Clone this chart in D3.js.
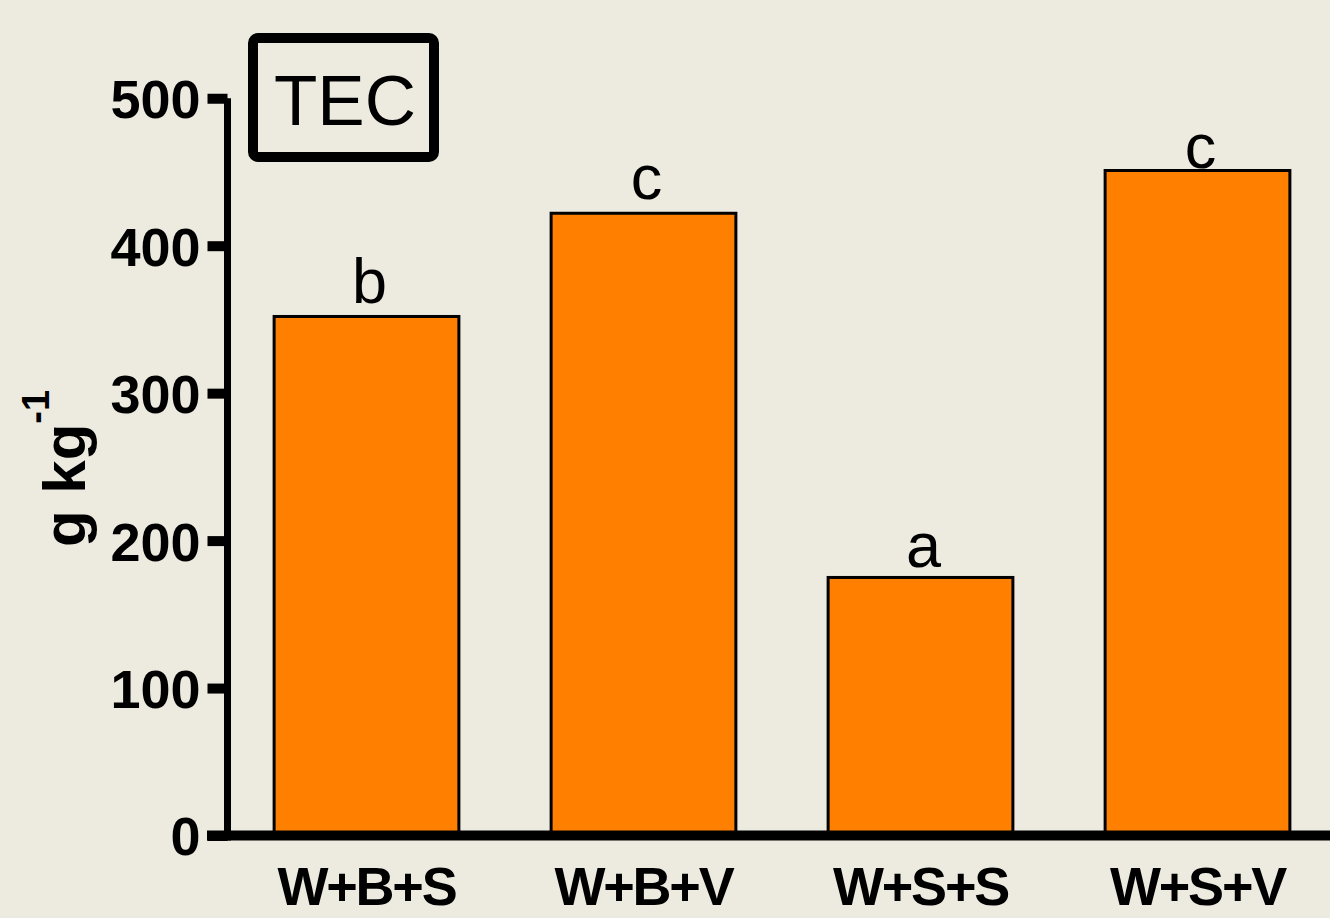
<!DOCTYPE html>
<html>
<head>
<meta charset="utf-8">
<script src="https://cdn.jsdelivr.net/npm/d3@7"></script>
<style>
  html, body { margin: 0; padding: 0; background: #EDEBE0; }
  svg { display: block; }
</style>
</head>
<body>
<svg id="chart" width="1330" height="918"></svg>
<script>
// Treatments and total extractable carbon (g kg-1)
const categories = ["W+B+S", "W+B+V", "W+S+S", "W+S+V"];
const values = [352, 422, 175, 451];
// Significance letters and the height (in g kg-1) where each sits
const letters = ["b", "c", "a", "c"];
const letterHeights = [361, 432, 182, 453];
const yTicks = [0, 100, 200, 300, 400, 500];
const panelTitle = "TEC";

const W = 1330, H = 918;
const svg = d3.select("#chart");

svg.append("rect").attr("width", W).attr("height", H).attr("fill", "#EDEBE0");

const y = d3.scaleLinear().domain([0, 500]).range([835.5, 98.25]);
const x = d3.scaleBand().domain(categories).range([228, 1336])
  .paddingInner(0.333).paddingOuter(0.1665);

// Bars
svg.append("g").selectAll("rect")
  .data(values)
  .join("rect")
  .attr("x", (d, i) => x(categories[i]))
  .attr("y", d => y(d))
  .attr("width", x.bandwidth())
  .attr("height", d => y(0) - y(d))
  .attr("fill", "#FF8000")
  .attr("stroke", "#000")
  .attr("stroke-width", 3);

// Letters above bars
svg.append("g").selectAll("text")
  .data(letters)
  .join("text")
  .attr("x", (d, i) => x(categories[i]) + x.bandwidth() / 2 + 3)
  .attr("y", (d, i) => y(letterHeights[i]))
  .attr("text-anchor", "middle")
  .attr("font-family", "Liberation Sans, Arial, sans-serif")
  .attr("font-size", 63)
  .attr("fill", "#000")
  .text(d => d);

// Y axis
const yAxis = d3.axisLeft(y).tickValues(yTicks).tickSize(20).tickPadding(7).tickFormat(d3.format("d"));
const gy = svg.append("g").attr("transform", "translate(227.5,0)").call(yAxis);
gy.select(".domain").remove();
gy.selectAll(".tick line").attr("stroke", "#000").attr("stroke-width", 10);
gy.selectAll(".tick text")
  .attr("font-family", "Liberation Sans, Arial, sans-serif")
  .attr("font-weight", "bold")
  .attr("font-size", 54)
  .attr("fill", "#000")
  .attr("dy", "0.36em");
svg.append("line")
  .attr("x1", 227.5).attr("x2", 227.5)
  .attr("y1", y(500)).attr("y2", y(0) + 5)
  .attr("stroke", "#000").attr("stroke-width", 7);

// X axis
svg.append("line")
  .attr("x1", 207).attr("x2", W)
  .attr("y1", y(0)).attr("y2", y(0))
  .attr("stroke", "#000").attr("stroke-width", 10);
const xAxis = d3.axisBottom(x).tickSize(0).tickPadding(0);
const gx = svg.append("g").attr("transform", "translate(0,905)").call(xAxis);
gx.select(".domain").remove();
gx.selectAll(".tick text")
  .attr("font-family", "Liberation Sans, Arial, sans-serif")
  .attr("font-weight", "bold")
  .attr("font-size", 54)
  .attr("letter-spacing", -2.2)
  .attr("fill", "#000")
  .attr("dy", 0)
  .attr("y", 0);

// Y axis title: g kg^-1
const yt = svg.append("text")
  .attr("transform", "translate(85,547) rotate(-90)")
  .attr("font-family", "Liberation Sans, Arial, sans-serif")
  .attr("font-weight", "bold")
  .attr("font-size", 60)
  .attr("fill", "#000");
yt.append("tspan").text("g kg");
yt.append("tspan").attr("font-size", 38).attr("dy", -36).text("-1");

// Panel title box
svg.append("rect")
  .attr("x", 253).attr("y", 38).attr("width", 181).attr("height", 119)
  .attr("rx", 5).attr("fill", "none")
  .attr("stroke", "#000").attr("stroke-width", 10);
svg.append("text")
  .attr("x", 345).attr("y", 125)
  .attr("text-anchor", "middle")
  .attr("font-family", "Liberation Sans, Arial, sans-serif")
  .attr("font-size", 71)
  .attr("fill", "#000")
  .text(panelTitle);
</script>
</body>
</html>
